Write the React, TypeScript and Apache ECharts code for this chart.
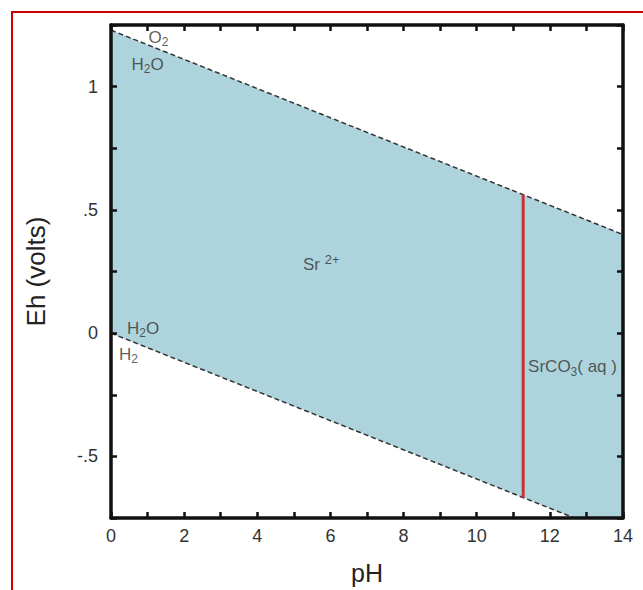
import React, { useEffect, useRef } from 'react';
import * as echarts from 'echarts';

// pH axis
const pHMin = 0;
const pHMax = 14;
const pHLabelValues = [0, 2, 4, 6, 8, 10, 12, 14];

// Eh axis
const ehMin = -0.75;
const ehMax = 1.25;
const ehTickLabels: Record<string, string> = { '1': '1', '0.5': '.5', '0': '0', '-0.5': '-.5' };

// water stability lines (pH, Eh)
const upperWaterLine = [[0, 1.229], [14, 0.4]];
const lowerWaterLine = [[0, 0], [12.67, -0.75]];
// Sr2+ / SrCO3(aq) boundary
const srBoundary = [[11.27, 0.562], [11.27, -0.667]];
// region between the water lines
const stabilityRegion = [[0, 1.229], [14, 0.4], [14, -0.75], [12.67, -0.75], [0, 0]];

// field labels: [pH, Eh, text]
const fieldLabels: [number, number, string][] = [
  [1.3, 1.2, 'O{sub|2}'],
  [1.0, 1.09, 'H{sub|2}O'],
  [0.88, 0.02, 'H{sub|2}O'],
  [0.48, -0.085, 'H{sub|2}'],
  [5.75, 0.28, 'Sr {sup|2+}'],
  [12.62, -0.137, 'SrCO{sub|3}( aq )'],
];

const FONT = 'Liberation Sans, Arial, sans-serif';

const mkAxisLine = () => ({ show: true, onZero: false, lineStyle: { color: '#111', width: 3.5 } });
const mkAxisTick = () => ({ show: true, inside: true, length: 6, lineStyle: { color: '#111', width: 2.5 } });

export default function App() {
  const ref = useRef<HTMLDivElement>(null);
  useEffect(() => {
    if (!ref.current) return;
    const chart = echarts.init(ref.current, undefined, { renderer: 'svg' });
    const option: any = {
      animation: false,
      backgroundColor: '#fff',
      textStyle: { fontFamily: FONT },
      grid: { left: 111, right: 20, top: 25, bottom: 68 },
      graphic: [
        {
          type: 'rect',
          shape: { x: 12, y: 12, width: 800, height: 800 },
          style: { fill: 'none', stroke: '#cc0000', lineWidth: 2 },
          silent: true,
        },
      ],
      xAxis: [
        {
          type: 'value', min: pHMin, max: pHMax, interval: 1, z: 10,
          axisLine: mkAxisLine(), axisTick: mkAxisTick(), splitLine: { show: false },
          axisLabel: {
            color: '#333', fontSize: 18, fontFamily: FONT, margin: 9,
            formatter: (v: number) => (pHLabelValues.includes(v) ? String(v) : ''),
          },
          name: 'pH', nameLocation: 'middle', nameGap: 42,
          nameTextStyle: { fontSize: 25, color: '#222', fontFamily: FONT },
        },
        {
          type: 'value', position: 'top', min: pHMin, max: pHMax, interval: 1, z: 10,
          axisLine: mkAxisLine(), axisTick: mkAxisTick(), splitLine: { show: false }, axisLabel: { show: false },
        },
      ],
      yAxis: [
        {
          type: 'value', min: ehMin, max: ehMax, interval: 0.25, z: 10,
          axisLine: mkAxisLine(), axisTick: mkAxisTick(), splitLine: { show: false },
          axisLabel: {
            color: '#333', fontSize: 18, fontFamily: FONT, margin: 13,
            formatter: (v: number) => ehTickLabels[String(v)] ?? '',
          },
          name: 'Eh (volts)', nameLocation: 'middle', nameGap: 62, nameRotate: 90,
          nameTextStyle: { fontSize: 26, color: '#222', fontFamily: FONT },
        },
        {
          type: 'value', position: 'right', min: ehMin, max: ehMax, interval: 0.25, z: 10,
          axisLine: mkAxisLine(), axisTick: mkAxisTick(), splitLine: { show: false }, axisLabel: { show: false },
        },
      ],
      series: [
        {
          type: 'custom',
          z: 1,
          data: [[0, 0]],
          renderItem: (params: any, api: any) => {
            if (params.dataIndex !== 0) return null;
            const pts = stabilityRegion.map((p) => api.coord(p));
            return { type: 'polygon', shape: { points: pts }, style: { fill: '#add3dc' } };
          },
          silent: true,
        },
        {
          type: 'line', data: upperWaterLine, symbol: 'none', z: 3,
          lineStyle: { color: '#333', width: 1.5, type: [5, 3] },
        },
        {
          type: 'line', data: lowerWaterLine, symbol: 'none', z: 3,
          lineStyle: { color: '#333', width: 1.5, type: [5, 3] },
        },
        {
          type: 'line', data: srBoundary, symbol: 'none', z: 4,
          lineStyle: { color: '#c83232', width: 3 },
        },
        {
          type: 'scatter', z: 5, symbolSize: 0, silent: true,
          data: fieldLabels.map((d) => [d[0], d[1]]),
          label: {
            show: true, position: 'inside',
            formatter: (p: any) => fieldLabels[p.dataIndex][2],
            color: '#333', fontSize: 17, fontFamily: FONT,
            rich: {
              sub: { fontSize: 12, lineHeight: 12, padding: [10, 0, 0, 0], color: '#333', fontFamily: FONT },
              sup: { fontSize: 13, lineHeight: 13, padding: [0, 0, 10, 0], color: '#333', fontFamily: FONT },
            },
          },
        },
      ],
    };
    chart.setOption(option);
    return () => chart.dispose();
  }, []);
  return (
    <div
      ref={ref}
      style={{ position: 'absolute', left: 0, top: 0, width: 643, height: 590 }}
    />
  );
}
